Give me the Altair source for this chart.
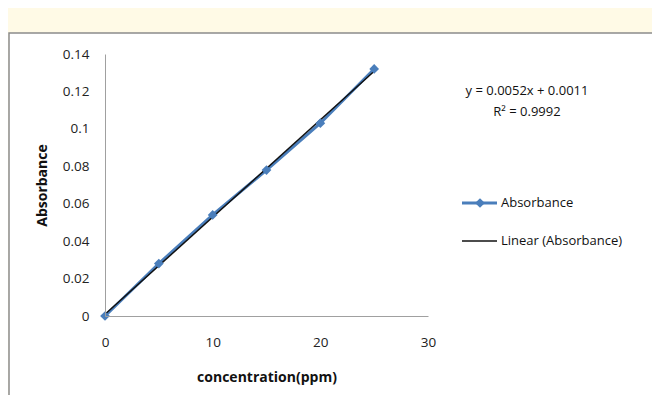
import altair as alt
import pandas as pd

# data
concentration = [0, 5, 10, 15, 20, 25]
absorbance = [0.0, 0.028, 0.054, 0.078, 0.103, 0.132]
y_ticks = [0, 0.02, 0.04, 0.06, 0.08, 0.1, 0.12, 0.14]
x_ticks = [0, 10, 20, 30]
equation_lines = ["y = 0.0052x + 0.0011", "R² = 0.9992"]
legend_labels = ["Absorbance", "Linear (Absorbance)"]

df = pd.DataFrame({"x": concentration, "y": absorbance})

FONT = "Liberation Sans Narrow, Open Sans, sans-serif"
BLUE = "#4A7EBB"
W, H = 323, 262

xs = alt.Scale(domain=[0, 30], nice=False)
ys = alt.Scale(domain=[0, 0.14], nice=False)

base = alt.Chart(df)
one = pd.DataFrame({"k": [0]})

# white chart box with grey top/left border (decoration)
box = alt.Chart(one).mark_rect(
    fill="white", stroke="#8c8c8c", strokeWidth=1.5
).encode(
    x=alt.value(-96), x2=alt.value(600), y=alt.value(-21), y2=alt.value(400)
)

common_axis = dict(
    grid=False, ticks=False, domainColor="#a0a0a0", labelFontSize=13.5,
    zindex=1, labelColor="#222", labelFont=FONT, titleFont=FONT,
    titleFontSize=14, titleFontWeight="bold", titleColor="#111",
    labelOverlap=False, labelFlush=False, labelBound=False,
)

x_enc = alt.X("x:Q", scale=xs, axis=alt.Axis(
    values=x_ticks, title="concentration(ppm)", labelPadding=19,
    titlePadding=22, format="d", **common_axis))
y_enc = alt.Y("y:Q", scale=ys, axis=alt.Axis(
    values=y_ticks, title="Absorbance", labelPadding=16,
    titlePadding=13, format="~g", **common_axis))

line = base.mark_line(color=BLUE, strokeWidth=3).encode(x=x_enc, y=y_enc)
pts = base.mark_point(shape="diamond", filled=True, color=BLUE, size=95, opacity=1).encode(
    x=x_enc, y=y_enc
)
trend = base.transform_regression("x", "y").mark_line(color="#111", strokeWidth=1.5).encode(
    x=x_enc, y=y_enc
)


def label(text, x, y, align):
    return alt.Chart(pd.DataFrame({"t": [text]})).mark_text(
        font=FONT, fontSize=13, color="#111", align=align, baseline="middle"
    ).encode(text="t:N", x=alt.value(x), y=alt.value(y))


eq1 = label(equation_lines[0], 422, 37, "center")
eq2 = label(equation_lines[1], 422, 58, "center")

# legend (manual)
leg_line1 = alt.Chart(one).mark_rule(color=BLUE, strokeWidth=3).encode(
    x=alt.value(357), x2=alt.value(392), y=alt.value(149))
leg_pt = alt.Chart(one).mark_point(
    shape="diamond", filled=True, color=BLUE, size=95, opacity=1
).encode(x=alt.value(375), y=alt.value(149))
leg_line2 = alt.Chart(one).mark_rule(color="#111", strokeWidth=1.5).encode(
    x=alt.value(357), x2=alt.value(392), y=alt.value(187))
leg1 = label(legend_labels[0], 396, 149, "left")
leg2 = label(legend_labels[1], 396, 187, "left")

chart = alt.layer(
    box, line, trend, pts, eq1, eq2, leg_line1, leg_pt, leg_line2, leg1, leg2
).properties(
    width=W, height=H,
    autosize=alt.AutoSizeParams(type="none"),
    padding={"left": 97, "top": 46, "right": 224, "bottom": 79},
    background="#FFFAE6",
).configure_view(stroke=None)

chart.save("out.html", embed_options={"renderer": "svg", "actions": False})
